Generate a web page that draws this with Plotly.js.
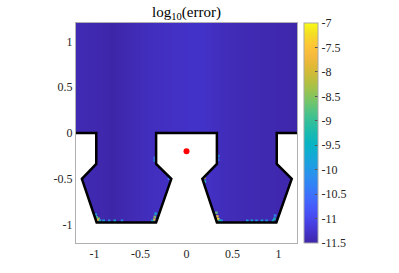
<!DOCTYPE html>
<html>
<head>
<meta charset="utf-8">
<script src="https://cdn.plot.ly/plotly-3.0.1.min.js"></script>
<style>html,body{margin:0;padding:0;background:#fff;}#chart{width:399px;height:273px;}</style>
</head>
<body>
<div id="chart"></div>
<script>
// ---- data ----
// log10(error) profile across x (field varies mostly along x)
const gridX = [-1.2, -1.0, -0.8, -0.6, -0.4, -0.2, 0, 0.2, 0.4, 0.6, 0.8, 1.0, 1.2];
const gridY = [-1.2, 1.2];
const errBottomRow = [-11.42, -11.45, -11.5, -11.42, -11.36, -11.33, -11.3, -11.3, -11.38, -11.42, -11.44, -11.46, -11.48];
const errTopRow    = [-11.42, -11.45, -11.5, -11.42, -11.36, -11.33, -11.3, -11.3, -11.38, -11.42, -11.44, -11.46, -11.48];

// larger errors near the boundary corners
const hotX = [-0.955, -0.965, -0.975, -0.94, -0.985, -0.90, -0.84, -0.78, -0.70,
              -0.35, -0.345, -0.335, -0.37,
              0.345, 0.335, 0.325, 0.36, 0.38, 0.66, 0.71, 0.76, 0.82, 0.87,
              0.955, 0.962, 0.94,
              -0.345, -0.345, 0.345, 0.345, -0.19, 0.195, 0.20];
const hotY = [-0.935, -0.95, -0.92, -0.955, -0.89, -0.957, -0.957, -0.957, -0.957,
              -0.945, -0.915, -0.88, -0.957,
              -0.94, -0.91, -0.87, -0.957, -0.957, -0.957, -0.957, -0.957, -0.957, -0.957,
              -0.935, -0.90, -0.957,
              -0.27, -0.30, -0.25, -0.29, -0.50, -0.49, -0.53];
const hotZ = [-8.3, -7.6, -8.9, -9.4, -9.8, -9.7, -10.0, -9.6, -10.1,
              -7.7, -8.5, -9.6, -9.5,
              -7.1, -7.4, -8.7, -9.3, -9.8, -9.8, -9.6, -10.0, -9.6, -9.9,
              -9.3, -10.2, -9.6,
              -10.3, -9.9, -9.9, -10.4, -10.3, -8.2, -9.2];

// domain boundary (y = 0 line and the two cut-outs)
const boundaryX = [-1.2, -0.98, -0.98, -1.136, -0.976, -0.33, -0.165, -0.33, -0.33,
                   0.33, 0.33, 0.172, 0.33, 0.976, 1.143, 0.98, 0.98, 1.2];
const boundaryY = [0, 0, -0.337, -0.5, -0.975, -0.975, -0.5, -0.337, 0,
                   0, -0.337, -0.5, -0.975, -0.975, -0.5, -0.337, 0, 0];
// outside corners that close the white (non-domain) area
const outsideX = [1.2, -1.2];
const outsideY = [-1.2, -1.2];

const sourceX = [0];
const sourceY = [-0.2];

const axisTicks = [-1, -0.5, 0, 0.5, 1];
const axisTickText = ["-1", "-0.5", "0", "0.5", "1"];
const cbTicks = [-7, -7.5, -8, -8.5, -9, -9.5, -10, -10.5, -11, -11.5];
const cbTickText = ["-7", "-7.5", "-8", "-8.5", "-9", "-9.5", "-10", "-10.5", "-11", "-11.5"];
const zMin = -11.5, zMax = -7;

// ---- parula colorscale ----
const parula = [
  [0.00, '#3e26a8'], [0.05, '#4433cb'], [0.10, '#4743e8'], [0.15, '#4655f9'],
  [0.20, '#4169fd'], [0.25, '#347df8'], [0.30, '#2d8ef0'], [0.35, '#1f9de3'],
  [0.40, '#12aad5'], [0.45, '#08b4c3'], [0.50, '#19baaf'], [0.55, '#31bf9b'],
  [0.60, '#52c383'], [0.65, '#79c566'], [0.70, '#a0c34b'], [0.75, '#c2bd3b'],
  [0.80, '#dfb935'], [0.85, '#f6b93c'], [0.90, '#fec636'], [0.95, '#f4dd25'],
  [1.00, '#f9fb15']
];

const FONT = "'Liberation Serif', 'DejaVu Serif', serif";

const traces = [
  {
    type: 'heatmap',
    x: gridX, y: gridY, z: [errBottomRow, errTopRow],
    zsmooth: 'best',
    colorscale: parula, zmin: zMin, zmax: zMax,
    showscale: true,
    colorbar: {
      x: 1.032, xanchor: 'left', xpad: 0,
      y: 0.5, yanchor: 'middle', ypad: 0,
      len: 1, lenmode: 'fraction',
      thickness: 14,
      outlinewidth: 1, outlinecolor: '#a8a8a8',
      tickmode: 'array', tickvals: cbTicks, ticktext: cbTickText,
      ticks: 'inside', ticklen: 3, tickcolor: '#555', tickwidth: 1,
      tickfont: {family: FONT, size: 12, color: '#262626'}
    },
    hoverinfo: 'skip'
  },
  {
    type: 'scatter', mode: 'lines',
    x: boundaryX.concat(outsideX), y: boundaryY.concat(outsideY),
    fill: 'toself', fillcolor: '#ffffff',
    line: {width: 0, color: '#ffffff'},
    showlegend: false, hoverinfo: 'skip'
  },
  {
    type: 'scatter', mode: 'markers',
    x: hotX, y: hotY,
    marker: {symbol: 'square', size: 2.5, color: hotZ, colorscale: parula,
             cmin: zMin, cmax: zMax, showscale: false, opacity: 0.9, line: {width: 0}},
    showlegend: false, hoverinfo: 'skip'
  },
  {
    type: 'scatter', mode: 'lines',
    x: boundaryX, y: boundaryY,
    line: {width: 2.5, color: '#000000'},
    showlegend: false, hoverinfo: 'skip'
  },
  {
    type: 'scatter', mode: 'markers',
    x: sourceX, y: sourceY,
    marker: {size: 6, color: '#ff0000', line: {width: 0}},
    showlegend: false, hoverinfo: 'skip'
  }
];

const axisCommon = {
  range: [-1.2, 1.2], autorange: false,
  tickmode: 'array', tickvals: axisTicks, ticktext: axisTickText,
  ticks: 'inside', ticklen: 3, tickcolor: '#888', tickwidth: 1,
  showline: true, linecolor: '#b0b0b0', linewidth: 1, mirror: 'ticks',
  showgrid: false, zeroline: false,
  tickfont: {family: FONT, size: 12, color: '#262626'},
  layer: 'below traces',
  fixedrange: true
};

const layout = {
  width: 399, height: 273,
  margin: {l: 76, r: 102, t: 23, b: 30, pad: 0},
  paper_bgcolor: '#ffffff', plot_bgcolor: '#ffffff',
  showlegend: false,
  title: {
    text: 'log<sub>10</sub>(error)',
    font: {family: FONT, size: 15, color: '#000000'},
    x: 0.5, xref: 'paper', xanchor: 'center',
    y: 1 - 12 / 273, yref: 'container', yanchor: 'middle'
  },
  xaxis: Object.assign({}, axisCommon),
  yaxis: Object.assign({}, axisCommon)
};

Plotly.newPlot('chart', traces, layout, {staticPlot: true, displayModeBar: false});
</script>
</body>
</html>
